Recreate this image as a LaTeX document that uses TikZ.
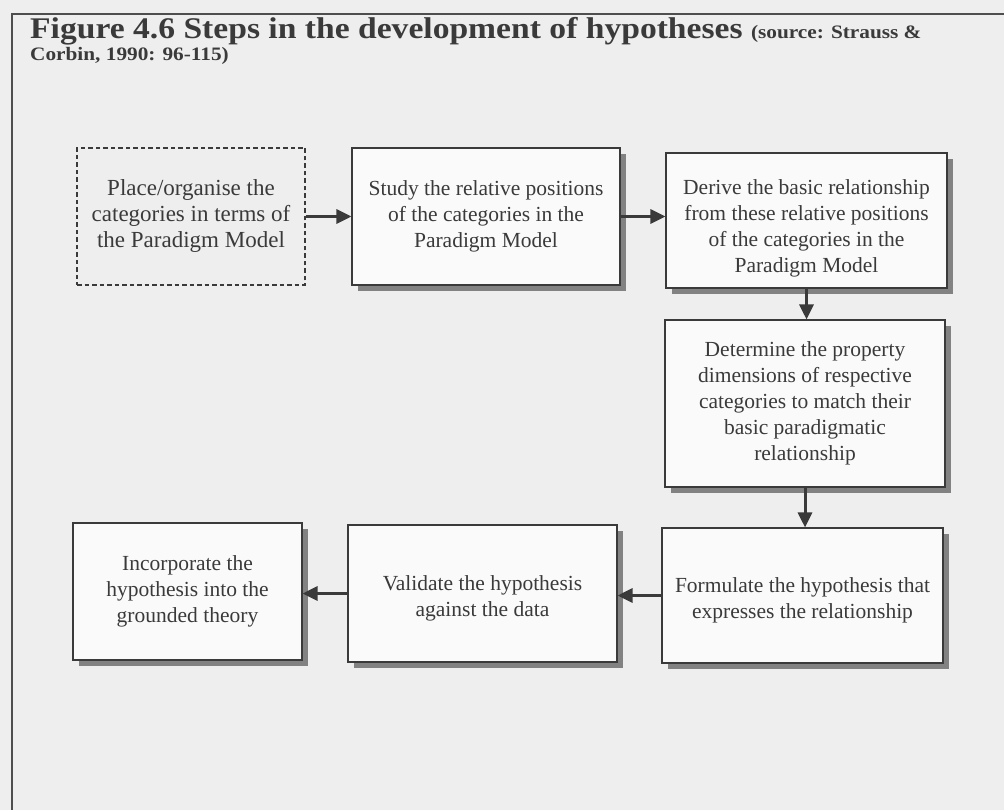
\documentclass[tikz,border=0pt]{standalone}
\usepackage{fontspec}
\setmainfont{Liberation Serif}
\newfontfamily\headfont[FakeStretch=1.12]{Liberation Serif}
\usetikzlibrary{arrows.meta,shadows}
\definecolor{paper}{HTML}{EEEEEE}
\definecolor{ink}{HTML}{3A3A3A}
\definecolor{boxfill}{HTML}{FAFAFA}
\definecolor{shade}{HTML}{828282}
\tikzset{
  stepbox/.style={draw=ink, line width=1.1pt, fill=boxfill, text=ink,
    align=center, inner sep=0pt,
    font=\fontsize{21.5}{26}\selectfont,
    drop shadow={shadow xshift=5.5pt, shadow yshift=-6pt, fill=shade, opacity=1}},
  openbox/.style={draw=ink, line width=1.1pt, dash pattern=on 4.5pt off 3pt,
    text=ink, align=center, inner sep=0pt,
    font=\fontsize{23}{26}\selectfont},
  flow/.style={draw=ink, line width=3pt,
    -{Triangle[length=15pt,width=14pt]}},
}
\begin{document}
\begin{tikzpicture}[x=1pt,y=-1pt]
  \useasboundingbox (0,0) rectangle (1004,810);
  \fill[paper] (0,0) rectangle (1004,810);
  % frame around the figure
  \draw[ink!90, line width=1.8pt] (12,810) -- (12,14) -- (1004,14);
  % caption
  \node[anchor=base west, inner sep=0pt, text=ink] (title) at (30,39)
    {\headfont\bfseries\fontsize{30}{34}\selectfont Figure 4.6 Steps in the development of hypotheses
     {\fontsize{19}{22}\selectfont (source: Strauss \&}};
  \node[anchor=base west, inner sep=0pt, text=ink] (source) at (30,61)
    {\headfont\bfseries\fontsize{19}{22}\selectfont Corbin, 1990: 96-115)};
  % steps
  \node[openbox, minimum width=228pt, minimum height=137pt] (place) at (191,216.5)
    {Place/organise the\\categories in terms of\\the Paradigm Model};
  \node[stepbox, minimum width=268pt, minimum height=137pt] (study) at (486,216.5)
    {Study the relative positions\\of the categories in the\\Paradigm Model};
  \node[stepbox, minimum width=281pt, minimum height=135pt] (derive) at (806.5,220.5)
    {\rule{0pt}{31pt}Derive the basic relationship\\from these relative positions\\of the categories in the\\Paradigm Model};
  \node[stepbox, minimum width=280pt, minimum height=167pt] (determine) at (805,403.5)
    {Determine the property\\dimensions of respective\\categories to match their\\basic paradigmatic\\relationship};
  \node[stepbox, minimum width=281pt, minimum height=135pt] (formulate) at (802.5,595.5)
    {\rule{0pt}{25pt}Formulate the hypothesis that\\expresses the relationship};
  \node[stepbox, minimum width=269pt, minimum height=137pt] (validate) at (482.5,593.5)
    {\rule{0pt}{25pt}Validate the hypothesis\\against the data};
  \node[stepbox, minimum width=229pt, minimum height=137pt] (incorporate) at (187.5,591.5)
    {Incorporate the\\hypothesis into the\\grounded theory};
  % connectors
  \draw[flow] (place.east) -- (study.west);
  \draw[flow] (study.east) -- (study.east -| derive.west);
  \draw[flow] (derive.south) -- (derive.south |- determine.north);
  \draw[flow] (determine.south) -- (determine.south |- formulate.north);
  \draw[flow] (formulate.west) -- (formulate.west -| validate.east);
  \draw[flow] (validate.west) -- (validate.west -| incorporate.east);
\end{tikzpicture}
\end{document}
